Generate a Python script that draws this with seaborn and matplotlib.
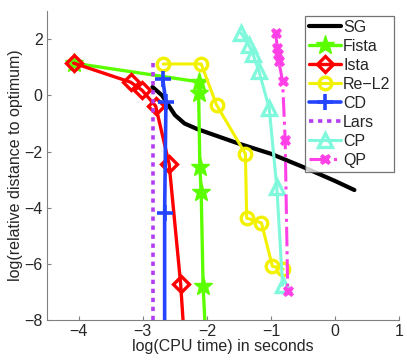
import matplotlib
matplotlib.use("Agg")
import matplotlib.pyplot as plt
import seaborn as sns
import pandas as pd

sns.set_style("white")
plt.rcParams['font.family'] = ['Liberation Sans', 'DejaVu Sans']
plt.rcParams['font.size'] = 11.5

# ---- data ----
sg_x = [-2.85, -2.7, -2.6, -2.5, -2.35, -2.15, -1.8, -1.5, -1.0, -0.5, 0.0, 0.3]
sg_y = [0.3, 0.0, -0.35, -0.7, -1.0, -1.2, -1.48, -1.72, -2.08, -2.55, -3.05, -3.37]

fista_x = [-4.08, -2.12, -2.13, -2.11, -2.09, -2.06, -2.0]
fista_y = [1.15, 0.48, 0.1, -2.55, -3.45, -6.78, -9.5]

ista_x = [-4.08, -3.19, -3.01, -2.80, -2.59, -2.41, -2.33]
ista_y = [1.15, 0.47, 0.18, -0.38, -2.44, -6.72, -9.5]

rel2_x = [-2.68, -2.09, -1.85, -1.40, -1.38, -1.15, -0.98, -0.81]
rel2_y = [1.12, 1.12, -0.34, -2.08, -4.37, -4.54, -6.08, -6.19]

cd_x = [-2.69, -2.64, -2.66, -2.66]
cd_y = [0.57, -0.23, -4.18, -9.5]

lars_x = [-2.84, -2.84]
lars_y = [1.15, -9.5]

cp_x = [-1.47, -1.35, -1.28, -1.19, -1.03, -0.91, -0.82]
cp_y = [2.22, 1.81, 1.46, 0.87, -0.44, -3.27, -6.76]

qp_x = [-0.93, -0.90, -0.89, -0.88, -0.82, -0.78, -0.74]
qp_y = [2.22, 1.69, 1.46, 1.22, 0.51, -1.58, -6.97]

methods = ["SG", "Fista", "Ista", "Re\u2212L2", "CD", "Lars", "CP", "QP"]
xs = [sg_x, fista_x, ista_x, rel2_x, cd_x, lars_x, cp_x, qp_x]
ys = [sg_y, fista_y, ista_y, rel2_y, cd_y, lars_y, cp_y, qp_y]

rows = []
for m, xx, yy in zip(methods, xs, ys):
    for i, (a, b) in enumerate(zip(xx, yy)):
        rows.append({"method": m, "order": i, "x": a, "y": b})
df = pd.DataFrame(rows)

styles = {
    "SG":    dict(color="black", lw=3.0, ls="-", marker=None),
    "Fista": dict(color="#5cff00", lw=2.4, ls="-", marker="*", ms=14, mfc="#5cff00", mew=1.0),
    "Ista":  dict(color="#ff0000", lw=2.4, ls="-", marker="D", ms=8, mfc="none", mew=2.4),
    "Re\u2212L2": dict(color="#f2f200", lw=2.2, ls="-", marker="o", ms=9, mfc="none", mew=2.4),
    "CD":    dict(color="#2444ff", lw=2.6, ls="-", marker="+", ms=11, mew=2.6),
    "Lars":  dict(color="#b43cf0", lw=2.6, ls=(0, (1.2, 1.3)), marker=None),
    "CP":    dict(color="#7ff8dc", lw=2.2, ls="-", marker="^", ms=10, mfc="none", mew=2.4),
    "QP":    dict(color="#ff40e6", lw=2.2, ls="-.", marker="X", ms=7.5, mfc="#ff40e6", mew=0.5),
}

fig = plt.figure(figsize=(4.07, 3.60), dpi=100)
ax = fig.add_axes([0.1147, 0.111, 0.8663, 0.858])

for m in methods:
    st = styles[m]
    sub = df[df.method == m]
    kw = dict(color=st["color"], linewidth=st["lw"], linestyle=st["ls"])
    if st["marker"] is not None:
        kw.update(marker=st["marker"], markersize=st["ms"], markeredgewidth=st["mew"],
                  markeredgecolor=st["color"])
        if "mfc" in st:
            kw.update(markerfacecolor=st["mfc"])
    sns.lineplot(data=sub, x="x", y="y", sort=False, estimator=None, ax=ax,
                 label=m, **kw)

ax.set_xlim(-4.5, 1)
ax.set_ylim(-8, 3)
ax.set_xticks([-4, -3, -2, -1, 0, 1])
ax.set_yticks([-8, -6, -4, -2, 0, 2])
ax.set_xticklabels(["\u22124", "\u22123", "\u22122", "\u22121", "0", "1"])
ax.set_yticklabels(["\u22128", "\u22126", "\u22124", "\u22122", "0", "2"])
ax.set_xlabel("log(CPU time) in seconds", labelpad=0)
ax.set_ylabel("log(relative distance to optimum)", labelpad=1)

for s in ["top", "right"]:
    ax.spines[s].set_visible(False)
for s in ["left", "bottom"]:
    ax.spines[s].set_color("#808080")
    ax.spines[s].set_linewidth(0.8)
ax.tick_params(direction="in", length=3, width=0.8, color="#808080",
               labelsize=11.5, pad=3, left=True, bottom=True)

leg = ax.legend(loc="upper right", borderaxespad=0.3, frameon=True, fancybox=False,
                labelspacing=0.25, handlelength=2.0, handletextpad=0.15,
                borderpad=0.25, fontsize=11.5)
leg.get_frame().set_edgecolor("#505050")
leg.get_frame().set_linewidth(0.9)

fig.savefig("out.png", dpi=100)
